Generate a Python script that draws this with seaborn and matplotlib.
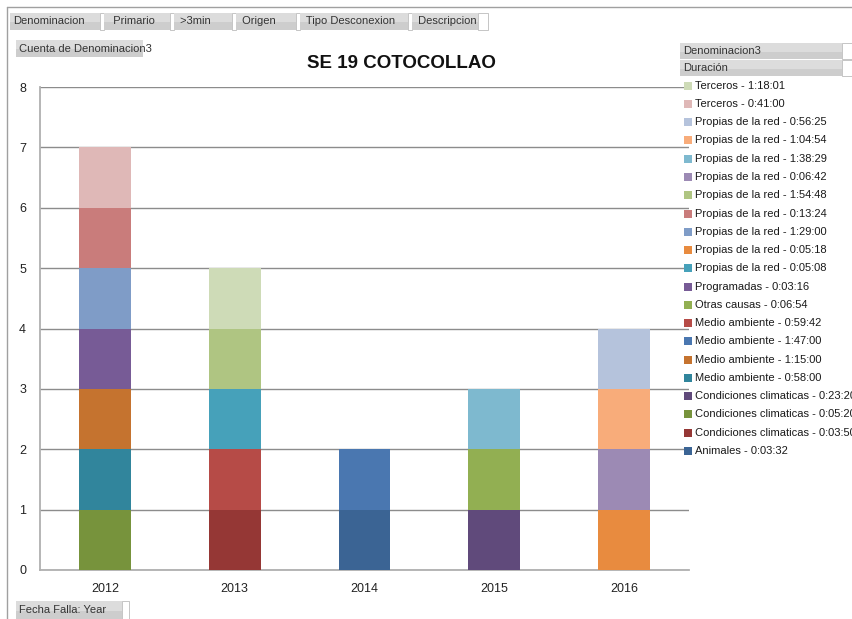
import matplotlib
matplotlib.use("Agg")
import matplotlib.pyplot as plt
from matplotlib.patches import Rectangle
from matplotlib.ticker import FixedLocator
import seaborn as sns
import pandas as pd

# ---------------- data ----------------
years = [2012, 2013, 2014, 2015, 2016]
year_labels = ["2012", "2013", "2014", "2015", "2016"]

# legend order (top to bottom); stacking is bottom = last entry
series_labels = [
    "Terceros - 1:18:01",
    "Terceros - 0:41:00",
    "Propias de la red - 0:56:25",
    "Propias de la red - 1:04:54",
    "Propias de la red - 1:38:29",
    "Propias de la red - 0:06:42",
    "Propias de la red - 1:54:48",
    "Propias de la red - 0:13:24",
    "Propias de la red - 1:29:00",
    "Propias de la red - 0:05:18",
    "Propias de la red - 0:05:08",
    "Programadas - 0:03:16",
    "Otras causas - 0:06:54",
    "Medio ambiente - 0:59:42",
    "Medio ambiente - 1:47:00",
    "Medio ambiente - 1:15:00",
    "Medio ambiente - 0:58:00",
    "Condiciones climaticas - 0:23:20",
    "Condiciones climaticas - 0:05:20",
    "Condiciones climaticas - 0:03:50",
    "Animales - 0:03:32",
]
series_year = [2013, 2012, 2016, 2016, 2015, 2016, 2013, 2012, 2012, 2016, 2013,
               2012, 2015, 2013, 2014, 2012, 2012, 2015, 2012, 2013, 2014]
series_count = [1] * 21
series_colors = [
    "#CEDBB7", "#DFB8B7", "#B5C3DC", "#F8AC7A", "#7EB9CF", "#9C8AB4",
    "#AFC582", "#C97C7B", "#7F9CC7", "#E88B3F", "#46A1BA", "#775B96",
    "#92AF52", "#B64B47", "#4A77B0", "#C5732F", "#31859C", "#604A7B",
    "#77933C", "#953735", "#3B6494",
]
title = "SE 19 COTOCOLLAO"

df = pd.DataFrame({"Fecha": series_year, "Serie": series_labels, "Cuenta": series_count})

# ---------------- figure ----------------
sns.set_style("white")
plt.rcParams["font.family"] = ["Liberation Sans", "DejaVu Sans"]
W, H = 852, 619
fig = plt.figure(figsize=(W / 100, H / 100), dpi=100)
fig.patch.set_facecolor("white")


def fx(x):
    return x / W


def fy(y):
    return 1 - y / H


L, R, T, B = 40, 689, 87, 570
ax = fig.add_axes([fx(L), fy(B), (R - L) / W, (B - T) / H])
ax.set_facecolor("white")

sns.histplot(data=df, x="Fecha", weights="Cuenta", hue="Serie",
             hue_order=series_labels, palette=series_colors,
             multiple="stack", discrete=True, shrink=0.4,
             linewidth=0, alpha=1, legend=False, ax=ax, zorder=3)

ax.set_xlim(years[0] - 0.5, years[-1] + 0.5)
ax.set_ylim(0, 8)
ax.set_xlabel("")
ax.set_ylabel("")
ax.set_yticks(range(0, 9))
ax.set_yticklabels([str(i) for i in range(0, 9)], fontsize=9, color="#222222")
ax.set_xticks(years)
ax.set_xticklabels(year_labels, fontsize=9, color="#222222")
ax.xaxis.set_minor_locator(FixedLocator([y + 0.5 for y in [years[0] - 1] + years]))
ax.tick_params(axis="x", which="major", length=0, pad=9)
ax.tick_params(axis="x", which="minor", length=4, color="#9A9A9A", width=1, direction="out")
ax.tick_params(axis="y", length=4, color="#9A9A9A", width=1, direction="out", pad=6)
ax.grid(axis="y", color="#8C8C8C", linewidth=1, zorder=0)
ax.set_axisbelow(True)
for s in ["top", "right"]:
    ax.spines[s].set_visible(False)
for s in ["left", "bottom"]:
    ax.spines[s].set_color("#B0B0B0")
    ax.spines[s].set_linewidth(1.3)

# title
fig.text(fx(401), fy(63), title, ha="center", va="center",
         fontsize=13.5, fontweight="bold", color="#111111")

# frame lines
fig.add_artist(plt.Line2D([fx(7), fx(852)], [fy(7), fy(7)], color="#A0A0A0", lw=1))
fig.add_artist(plt.Line2D([fx(7), fx(7)], [fy(7), fy(619)], color="#A0A0A0", lw=1))


def gray_box(x0, y0, x1, y1, text, fs=8, white_end=None):
    fig.add_artist(Rectangle((fx(x0), fy(y1)), (x1 - x0) / W, (y1 - y0) / H,
                             transform=fig.transFigure, facecolor="#DCDCDC",
                             edgecolor="none"))
    fig.add_artist(Rectangle((fx(x0), fy(y1)), (x1 - x0) / W, (y1 - y0) / H * 0.45,
                             transform=fig.transFigure, facecolor="#CDCDCD",
                             edgecolor="none"))
    fig.text(fx(x0 + 3), fy((y0 + y1) / 2), text, ha="left", va="center",
             fontsize=fs, color="#333333")
    if white_end is not None:
        fig.add_artist(Rectangle((fx(x1), fy(y1)), (white_end - x1) / W, (y1 - y0) / H,
                                 transform=fig.transFigure, facecolor="white",
                                 edgecolor="#BBBBBB", lw=0.6))


# top field buttons
gray_box(10, 13, 100, 30, "Denominacion", white_end=104)
gray_box(104, 13, 170, 30, "  Primario", white_end=174)
gray_box(174, 13, 232, 30, " >3min", white_end=236)
gray_box(236, 13, 296, 30, " Origen", white_end=300)
gray_box(300, 13, 408, 30, " Tipo Desconexion", white_end=412)
gray_box(412, 13, 478, 30, " Descripcion", white_end=488)
gray_box(16, 40, 143, 57, "Cuenta de Denominacion3")
gray_box(16, 601, 122, 619, "Fecha Falla: Year", white_end=129)

# legend header boxes
gray_box(680, 43, 842, 59, "Denominacion3", white_end=852)
gray_box(680, 60, 842, 76, "Duración", white_end=852)

# legend entries
y_first, y_last = 85.7, 451.0
step = (y_last - y_first) / (len(series_labels) - 1)
for i, (lab, col) in enumerate(zip(series_labels, series_colors)):
    yc = y_first + i * step
    fig.add_artist(Rectangle((fx(684), fy(yc + 4)), 8 / W, 8 / H,
                             transform=fig.transFigure, facecolor=col,
                             edgecolor="none", zorder=5))
    fig.text(fx(695), fy(yc), lab, ha="left", va="center", fontsize=8,
             color="#1A1A1A")

fig.savefig("out.png", dpi=100)
